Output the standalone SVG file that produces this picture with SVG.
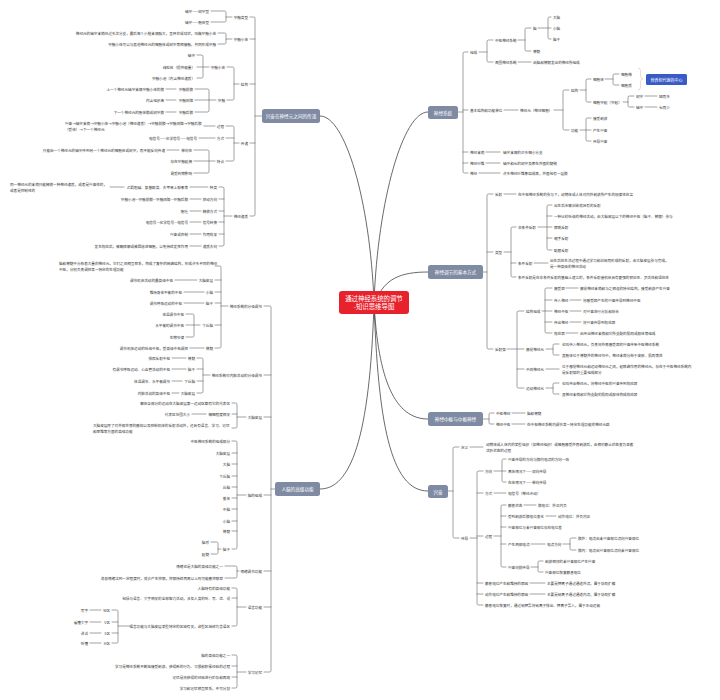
<svg xmlns="http://www.w3.org/2000/svg" width="720" height="700" viewBox="0 0 720 700">
<style>
.t{font-family:"Noto Sans CJK SC","Noto Sans",sans-serif;font-size:3.6px;fill:#333;dominant-baseline:central}
.e{text-anchor:end}
.l{fill:none;stroke:#555;stroke-width:0.55;stroke-linecap:round}
.c{fill:none;stroke:#444;stroke-width:0.8}
.b{fill:#7f8ba3}
.bt{font-family:"Noto Sans CJK SC",sans-serif;font-size:4.6px;fill:#fff;text-anchor:middle;dominant-baseline:central}
</style>
<rect width="720" height="700" fill="#fff"/>
<g id="connectors">
<path class="c" d="M320,116 C345,116 370,200 374,302"/>
<path class="c" d="M428,112 C403,112 378,200 374,302"/>
<path class="c" d="M376,300 C385,279 400,272 428,272"/>
<path class="c" d="M374,302 C378,380 395,419 428,419"/>
<path class="c" d="M374,302 C378,420 390,491 428,491"/>
<path class="c" d="M374,302 C370,440 350,489 320,489"/>
<path class="l" d="M250,17 H253.5 Q255,17 255,18.5 V214.5 Q255,216 253.5,216 H250 M250,39 H255 M250,84 H255 M250,143 H255 M255,116 H262"/>
<path class="l" d="M211,11 H224.5 Q226,11 226,12.5 V20.5 Q226,22 224.5,22 H211 M226,17 H232"/>
<path class="l" d="M218,33 H224.5 Q226,33 226,34.5 V42.5 Q226,44 224.5,44 H218 M226,39 H232"/>
<path class="l" d="M227,67 H232.5 Q234,67 234,68.5 V98.5 Q234,100 232.5,100 H227 M234,84 H239"/>
<path class="l" d="M197,55 H201.5 Q203,55 203,56.5 V76.5 Q203,78 201.5,78 H197 M197,67 H209"/>
<path class="l" d="M195,89 H207.5 Q209,89 209,90.5 V110.5 Q209,112 207.5,112 H195 M195,100 H216 M166,89 H176 M166,100 H176 M166,112 H176"/>
<path class="l" d="M226,126 H232.5 Q234,126 234,127.5 V159.5 Q234,161 232.5,161 H226 M226,138 H234 M234,143 H239 M204,126 H215 M199,138 H215"/>
<path class="l" d="M194,150 H207.5 Q209,150 209,151.5 V171.5 Q209,173 207.5,173 H194 M194,161 H215 M167,150 H179"/>
<path class="l" d="M219,187 H222.5 Q224,187 224,188.5 V244.5 Q224,246 222.5,246 H219 M219,199 H224 M219,211 H224 M219,222 H224 M219,234 H224 M224,216 H232 M190,187 H208 M190,199 H201 M190,211 H201 M190,222 H201 M190,234 H201 M190,246 H201 M110,187 H124"/>
<path class="l" d="M264,306 H269.5 Q271,306 271,307.5 V670.5 Q271,672 269.5,672 H264 M264,375 H271 M264,417 H271 M264,495 H271 M264,571 H271 M264,607 H271 M271,489 H275"/>
<path class="l" d="M215,266 H219.5 Q221,266 221,267.5 V346.5 Q221,348 219.5,348 H215 M215,280 H221 M215,292 H221 M215,303 H221 M215,325 H221 M221,306 H228 M175,280 H197 M184,292 H204 M184,303 H204 M190,348 H204"/>
<path class="l" d="M186,314 H192.5 Q194,314 194,315.5 V335.5 Q194,337 192.5,337 H186 M186,325 H200"/>
<path class="l" d="M197,358 H201.5 Q203,358 203,359.5 V391.5 Q203,393 201.5,393 H197 M197,369 H203 M197,381 H203 M203,375 H210 M172,358 H186 M172,369 H186 M172,381 H182 M172,393 H179"/>
<path class="l" d="M232,403 H235.5 Q237,403 237,404.5 V426.5 Q237,428 235.5,428 H232 M232,414 H237 M237,417 H246 M192,414 H206"/>
<path class="l" d="M232,441 H235.5 Q237,441 237,442.5 V547.5 Q237,549 235.5,549 H232 M232,453 H237 M232,464 H237 M232,476 H237 M232,487 H237 M232,498 H237 M232,509 H237 M232,521 H237 M232,531 H237 M237,495 H246"/>
<path class="l" d="M211,542 H216.5 Q218,542 218,543.5 V552.5 Q218,554 216.5,554 H211 M218,549 H221"/>
<path class="l" d="M225,566 H235.5 Q237,566 237,567.5 V576.5 Q237,578 235.5,578 H225 M237,571 H239"/>
<path class="l" d="M232,588 H235.5 Q237,588 237,589.5 V624.5 Q237,626 235.5,626 H232 M232,598 H237 M237,607 H246"/>
<path class="l" d="M112,610 H116.5 Q118,610 118,611.5 V641.5 Q118,643 116.5,643 H112 M112,622 H118 M112,633 H118 M118,626 H131 M90,610 H101 M90,622 H101 M90,633 H101 M90,643 H101"/>
<path class="l" d="M232,655 H235.5 Q237,655 237,656.5 V686.5 Q237,688 235.5,688 H232 M232,666 H237 M232,677 H237 M237,672 H246"/>
<path class="l" d="M468,52 H464.5 Q463,52 463,53.5 V171.5 Q463,173 464.5,173 H468 M463,110 H468 M463,152 H468 M463,163 H468 M458,112 H463"/>
<path class="l" d="M479,52 H487 M493,40 H488.5 Q487,40 487,41.5 V60.5 Q487,62 488.5,62 H493"/>
<path class="l" d="M518,40 H525 M531,28 H526.5 Q525,28 525,29.5 V49.5 Q525,51 526.5,51 H531 M518,62 H531"/>
<path class="l" d="M538,28 H551 M551,17 H549.5 Q548,17 548,18.5 V37.5 Q548,39 549.5,39 H551"/>
<path class="l" d="M504,110 H518 M554,110 H563 M569,90 H564.5 Q563,90 563,91.5 V128.5 Q563,130 564.5,130 H569"/>
<path class="l" d="M580,90 H586 M591,79 H587.5 Q586,79 586,80.5 V100.5 Q586,102 587.5,102 H591"/>
<path class="l" d="M605,79 H613 M619,74 H614.5 Q613,74 613,75.5 V83.5 Q613,85 614.5,85 H619"/>
<path class="l" d="M623,102 H628 M634,96 H629.5 Q628,96 628,97.5 V105.5 Q628,107 629.5,107 H634 M645,96 H657 M645,107 H657"/>
<path class="l" d="M580,130 H591 M591,118 H587.5 Q586,118 586,119.5 V139.5 Q586,141 587.5,141 H591"/>
<path class="l" d="M486,152 H500 M486,163 H500 M479,173 H500"/>
<path d="M638,68 Q640.5,68 640.5,71 V76 Q640.5,79 643,79 Q640.5,79 640.5,82 V87 Q640.5,90 638,90" fill="none" stroke="#d6bf9a" stroke-width="0.5"/>
<path class="l" d="M493,194 H488.5 Q487,194 487,195.5 V347.5 Q487,349 488.5,349 H493 M487,252 H493 M483,272 H487 M504,194 H516"/>
<path class="l" d="M504,252 H511 M516,227 H512.5 Q511,227 511,228.5 V275.5 Q511,277 512.5,277 H516 M511,263 H516"/>
<path class="l" d="M538,227 H552 M552,205 H548.5 Q547,205 547,206.5 V248.5 Q547,250 548.5,250 H552 M547,216 H552 M547,238 H552 M534,263 H548"/>
<path class="l" d="M507,349 H524 M524,311 H518.5 Q517,311 517,312.5 V386.5 Q517,388 518.5,388 H524 M517,369 H524"/>
<path class="l" d="M542,311 H552 M552,288 H546.5 Q545,288 545,289.5 V331.5 Q545,333 546.5,333 H552 M545,300 H552 M545,322 H552 M566,288 H578 M570,300 H581 M570,311 H581 M570,322 H581 M566,333 H578"/>
<path class="l" d="M546,349 H553 M559,344 H554.5 Q553,344 553,345.5 V353.5 Q553,355 554.5,355 H559 M546,369 H559"/>
<path class="l" d="M546,388 H553 M559,383 H554.5 Q553,383 553,384.5 V392.5 Q553,394 554.5,394 H559"/>
<path class="l" d="M483,419 H489 M494,413 H490.5 Q489,413 489,414.5 V422.5 Q489,424 490.5,424 H494 M512,413 H525 M512,424 H525"/>
<path class="l" d="M459,447 H454.5 Q453,447 453,448.5 V536.5 Q453,538 454.5,538 H459 M448,491 H453 M470,447 H483"/>
<path class="l" d="M470,538 H477 M483,471 H478.5 Q477,471 477,472.5 V603.5 Q477,605 478.5,605 H483 M477,493 H483 M477,536 H483 M477,583 H483 M477,594 H483"/>
<path class="l" d="M494,471 H506 M506,459 H503.5 Q502,459 502,460.5 V480.5 Q502,482 503.5,482 H506 M494,493 H506"/>
<path class="l" d="M494,536 H501 M506,505 H502.5 Q501,505 501,506.5 V565.5 Q501,567 502.5,567 H506 M501,516 H506 M501,527 H506 M501,544 H506 M524,505 H536 M546,516 H556"/>
<path class="l" d="M531,544 H545 M563,544 H570 M576,538 H571.5 Q570,538 570,539.5 V548.5 Q570,550 571.5,550 H576"/>
<path class="l" d="M531,567 H538 M543,561 H539.5 Q538,561 538,562.5 V570.5 Q538,572 539.5,572 H543 M530,583 H545 M530,594 H545"/>
</g>
<g id="center">
<rect x="339" y="291" width="70" height="23" rx="3" fill="#e8222c"/>
<text x="374" y="298.6" class="bt" style="font-size:6.4px">通过神经系统的调节</text>
<text x="374" y="306.8" class="bt" style="font-size:6.4px">-知识思维导图</text>
</g>
<g id="box-chuandi"><rect x="262" y="109" width="58" height="14" rx="2.5" class="b"/><text x="291" y="116" class="bt">兴奋在神经元之间的传递</text></g>
<g id="box-gaoji"><rect x="275" y="482" width="45" height="14" rx="2.5" class="b"/><text x="297.5" y="489" class="bt">人脑的高级功能</text></g>
<g id="box-xitong"><rect x="428" y="106" width="30" height="13" rx="2.5" class="b"/><text x="443" y="112.5" class="bt">神经系统</text></g>
<g id="box-fangshi"><rect x="428" y="265" width="55" height="14" rx="2.5" class="b"/><text x="455.5" y="272" class="bt">神经调节的基本方式</text></g>
<g id="box-zhongshu"><rect x="428" y="412" width="55" height="14" rx="2.5" class="b"/><text x="455.5" y="419" class="bt">神经中枢与中枢神经</text></g>
<g id="box-xingfen"><rect x="428" y="485" width="20" height="13" rx="2.5" class="b"/><text x="438" y="491.5" class="bt">兴奋</text></g>
<g id="box-zhongxin"><rect x="646" y="74" width="41" height="11" rx="1.5" fill="#3a5bc7"/><text x="666.5" y="79.5" class="bt" style="font-size:4px">营养和代谢的中心</text></g>
<g id="branch-chuandi" class="t">
<text class="t e" x="248" y="17">突触类型</text>
<text class="t e" x="248" y="39">突触小体</text>
<text class="t e" x="248" y="84">结构</text>
<text class="t e" x="248" y="143">传递</text>
<text class="t e" x="248" y="216">神经递质</text>
<text class="t e" x="209" y="11">轴突——树突型</text>
<text class="t e" x="209" y="22">轴突——胞体型</text>
<text class="t e" x="216" y="33">神经元的轴突末梢经过多次分支，最后每个小枝末端膨大，呈杯状或球状，叫做突触小体</text>
<text class="t e" x="216" y="44">突触小体可以与其他神经元的细胞体或树突等相接触，共同形成突触</text>
<text class="t e" x="225" y="67">突触小体</text>
<text class="t e" x="225" y="100">突触</text>
<text class="t e" x="195" y="55">轴突</text>
<text class="t e" x="195" y="67">线粒体（提供能量）</text>
<text class="t e" x="195" y="78">突触小泡（内含神经递质）</text>
<text class="t e" x="193" y="89">突触前膜</text>
<text class="t e" x="193" y="100">突触间隙</text>
<text class="t e" x="193" y="112">突触后膜</text>
<text class="t e" x="164" y="89">上一个神经元轴突末端突触小体的膜</text>
<text class="t e" x="164" y="100">内含组织液</text>
<text class="t e" x="164" y="112">下一个神经元的胞体膜或树突膜</text>
<text class="t e" x="224" y="126">过程</text>
<text class="t e" x="224" y="138">方式</text>
<text class="t e" x="224" y="161">特点</text>
<text class="t" x="65" y="123.5">兴奋→轴突末梢→突触小体→突触小泡（神经递质）→突触前膜→突触间隙→突触后膜</text>
<text class="t" x="65" y="129">（受体）→下一个神经元</text>
<text class="t e" x="197" y="138">电信号——化学信号——电信号</text>
<text class="t e" x="192" y="150">单向性</text>
<text class="t e" x="192" y="161">存在突触延搁</text>
<text class="t e" x="192" y="173">易受药物影响</text>
<text class="t e" x="165" y="150">只能由一个神经元的轴突传到另一个神经元的细胞体或树突，而不能反向传递</text>
<text class="t e" x="217" y="187">种类</text>
<text class="t e" x="217" y="199">移动方向</text>
<text class="t e" x="217" y="211">释放方式</text>
<text class="t e" x="217" y="222">信号转换</text>
<text class="t e" x="217" y="234">作用效果</text>
<text class="t e" x="217" y="246">递质去向</text>
<text class="t e" x="188" y="187">乙酰胆碱、氨基酸类、去甲肾上腺素等</text>
<text class="t e" x="188" y="199">突触小泡—突触前膜—突触间隙—突触后膜</text>
<text class="t e" x="188" y="211">胞吐</text>
<text class="t e" x="188" y="222">电信号—化学信号—电信号</text>
<text class="t e" x="188" y="234">兴奋或抑制</text>
<text class="t e" x="188" y="246">发生效应后，被酶降解或被回收进细胞，以免持续发挥作用</text>
<text class="t" x="10" y="184">同一神经元的末梢只能释放一种神经递质，或者是兴奋性的，</text>
<text class="t" x="10" y="190">或者是抑制性的</text>
</g>
<g id="branch-gaoji">
<text class="t e" x="262" y="306">神经系统的分级调节</text>
<text class="t e" x="262" y="375">神经系统对内脏活动的分级调节</text>
<text class="t e" x="262" y="417">大脑皮层</text>
<text class="t e" x="262" y="495">脑的组成</text>
<text class="t e" x="262" y="571">情绪调节功能</text>
<text class="t e" x="262" y="607">语言功能</text>
<text class="t e" x="262" y="672">学习记忆</text>
<text class="t" x="59" y="263">脑和脊髓中分布着大量的神经元，它们之间相互联系，构成了复杂的网络结构，形成许多不同的神经</text>
<text class="t" x="59" y="269">中枢，分别负责调控某一特定的生理功能</text>
<text class="t e" x="173" y="280">调节机体活动的最高级中枢</text>
<text class="t e" x="213" y="280">大脑皮层</text>
<text class="t e" x="213" y="292">小脑</text>
<text class="t e" x="213" y="303">脑干</text>
<text class="t e" x="213" y="325">下丘脑</text>
<text class="t e" x="213" y="348">脊髓</text>
<text class="t e" x="182" y="292">维持身体平衡的中枢</text>
<text class="t e" x="182" y="303">调节呼吸运动的中枢</text>
<text class="t e" x="184" y="314">体温调节中枢</text>
<text class="t e" x="184" y="325">水平衡的调节中枢</text>
<text class="t e" x="184" y="337">生物节律</text>
<text class="t e" x="188" y="348">调节机体运动的低级中枢，受高级中枢调控</text>
<text class="t e" x="170" y="358">排尿反射中枢</text>
<text class="t e" x="170" y="369">有调节呼吸运动、心血管活动的中枢</text>
<text class="t e" x="170" y="381">体温调节、水平衡调节</text>
<text class="t e" x="170" y="393">内脏活动的高级中枢</text>
<text class="t e" x="195" y="358">脊髓</text>
<text class="t e" x="195" y="369">脑干</text>
<text class="t e" x="195" y="381">下丘脑</text>
<text class="t e" x="195" y="393">大脑皮层</text>
<text class="t e" x="230" y="403">躯体各部分的运动在大脑皮层第一运动区都有它的代表区</text>
<text class="t e" x="190" y="414">代表区范围大小</text>
<text class="t e" x="230" y="414">精细程度相关</text>
<text class="t" x="93" y="425">大脑皮层除了对外部世界的感知以及控制机体的反射活动外，还具有语言、学习、记忆</text>
<text class="t" x="93" y="431">和思维等方面的高级功能</text>
<text class="t e" x="230" y="441">中枢神经系统的组成部分</text>
<text class="t e" x="230" y="453">大脑皮层</text>
<text class="t e" x="230" y="464">大脑</text>
<text class="t e" x="230" y="476">下丘脑</text>
<text class="t e" x="230" y="487">丘脑</text>
<text class="t e" x="230" y="498">垂体</text>
<text class="t e" x="230" y="509">中脑</text>
<text class="t e" x="230" y="521">小脑</text>
<text class="t e" x="230" y="531">脊髓</text>
<text class="t e" x="230" y="549">脑干</text>
<text class="t e" x="209" y="542">脑桥</text>
<text class="t e" x="209" y="554">延髓</text>
<text class="t e" x="223" y="566">情绪也是大脑的高级功能之一</text>
<text class="t e" x="223" y="578">消极情绪达到一定程度时，就会产生抑郁，抑郁持续两周以上则可能患抑郁症</text>
<text class="t e" x="230" y="588">人脑特有的高级功能</text>
<text class="t e" x="230" y="598">包括与语言、文字相关的全部智力活动，涉及人类的听、写、读、说</text>
<text class="t e" x="230" y="626">语言功能与大脑皮层某些特定的区域有关，这些区域称为言语区</text>
<text class="t e" x="110" y="610">W区</text>
<text class="t e" x="110" y="622">V区</text>
<text class="t e" x="110" y="633">S区</text>
<text class="t e" x="110" y="643">H区</text>
<text class="t e" x="88" y="610">写字</text>
<text class="t e" x="88" y="622">看懂文字</text>
<text class="t e" x="88" y="633">讲话</text>
<text class="t e" x="88" y="643">听懂</text>
<text class="t e" x="230" y="655">脑的高级功能之一</text>
<text class="t e" x="230" y="666">学习是神经系统不断地接受刺激，获得新的行为、习惯和积累经验的过程</text>
<text class="t e" x="230" y="677">记忆是将获得的经验进行贮存和再现</text>
<text class="t e" x="230" y="688">学习和记忆相互联系，不可分割</text>
</g>
<g id="branch-xitong">
<text class="t" x="470" y="52">组成</text>
<text class="t" x="470" y="110">基本结构和功能单位</text>
<text class="t" x="470" y="152">神经末梢</text>
<text class="t" x="470" y="163">神经纤维</text>
<text class="t" x="470" y="173">神经</text>
<text class="t" x="495" y="40">中枢神经系统</text>
<text class="t" x="495" y="62">周围神经系统</text>
<text class="t" x="533" y="28">脑</text>
<text class="t" x="533" y="51">脊髓</text>
<text class="t" x="533" y="62">由脑和脊髓发出的神经所组成</text>
<text class="t" x="553" y="17">大脑</text>
<text class="t" x="553" y="28">小脑</text>
<text class="t" x="553" y="39">脑干</text>
<text class="t" x="520" y="110">神经元（神经细胞）</text>
<text class="t" x="571" y="90">结构</text>
<text class="t" x="571" y="130">功能</text>
<text class="t" x="593" y="79">细胞体</text>
<text class="t" x="593" y="102">细胞突起（突起）</text>
<text class="t" x="593" y="118">接受刺激</text>
<text class="t" x="593" y="130">产生兴奋</text>
<text class="t" x="593" y="141">传导兴奋</text>
<text class="t" x="621" y="74">细胞核</text>
<text class="t" x="621" y="85">细胞质</text>
<text class="t" x="636" y="96">树突</text>
<text class="t" x="636" y="107">轴突</text>
<text class="t" x="659" y="96">短而多</text>
<text class="t" x="659" y="107">长而少</text>
<text class="t" x="503" y="152">轴突末端的众多细小分支</text>
<text class="t" x="503" y="163">轴突和长的树突及套在外面的髓鞘</text>
<text class="t" x="503" y="173">许多神经纤维集结成束，外面包有一层膜</text>
</g>
<g id="branch-fangshi">
<text class="t" x="495" y="194">反射</text>
<text class="t" x="495" y="252">类型</text>
<text class="t" x="495" y="349">反射弧</text>
<text class="t" x="518" y="194">在中枢神经系统的参与下，动物体或人体对内外刺激所产生的规律性应答</text>
<text class="t" x="518" y="227">非条件反射</text>
<text class="t" x="518" y="263">条件反射</text>
<text class="t" x="518" y="277">条件反射是在非条件反射的基础上建立的，条件反射使机体具有更强的预见性、灵活性和适应性</text>
<text class="t" x="554" y="205">出生后无需训练就具有的反射</text>
<text class="t" x="554" y="216">一种比较低级的神经活动，由大脑皮层以下的神经中枢（脑干、脊髓）参与</text>
<text class="t" x="554" y="227">膝跳反射</text>
<text class="t" x="554" y="238">缩手反射</text>
<text class="t" x="554" y="250">眨眼反射</text>
<text class="t" x="550" y="260">出生后在生活过程中通过学习和训练而形成的反射，由大脑皮层参与完成，</text>
<text class="t" x="550" y="266">是一种高级的神经活动</text>
<text class="t" x="526" y="311">结构组成</text>
<text class="t" x="526" y="349">感觉神经元</text>
<text class="t" x="526" y="369">中间神经元</text>
<text class="t" x="526" y="388">运动神经元</text>
<text class="t" x="554" y="288">感受器</text>
<text class="t" x="554" y="300">传入神经</text>
<text class="t" x="554" y="311">神经中枢</text>
<text class="t" x="554" y="322">传出神经</text>
<text class="t" x="554" y="333">效应器</text>
<text class="t" x="580" y="288">感觉神经末梢和与之相连的特化结构，接受刺激产生兴奋</text>
<text class="t" x="583" y="300">将感受器产生的兴奋传导到神经中枢</text>
<text class="t" x="583" y="311">对兴奋进行分析和综合</text>
<text class="t" x="583" y="322">将兴奋传导到效应器</text>
<text class="t" x="580" y="333">由传出神经末梢和它所支配的肌肉或腺体等组成</text>
<text class="t" x="562" y="344">也叫传入神经元，负责将外周感受器的兴奋传至中枢神经系统</text>
<text class="t" x="562" y="355">其胞体位于脊髓外的神经节中，神经末梢分布于皮肤、肌肉等处</text>
<text class="t" x="562" y="366">位于感觉神经元和运动神经元之间，起联络作用的神经元，存在于中枢神经系统内</text>
<text class="t" x="562" y="372">是反射弧的重要组成部分</text>
<text class="t" x="562" y="383">也叫传出神经元，将神经中枢的兴奋传到效应器</text>
<text class="t" x="562" y="394">其神经末梢和它所支配的肌肉或腺体构成效应器</text>
</g>
<g id="branch-zhongshu">
<text class="t" x="496" y="413">中枢神经</text>
<text class="t" x="496" y="424">神经中枢</text>
<text class="t" x="527" y="413">脑和脊髓</text>
<text class="t" x="527" y="424">在中枢神经系统内调节某一特定生理功能的神经元群</text>
</g>
<g id="branch-xingfen">
<text class="t" x="461" y="447">定义</text>
<text class="t" x="461" y="538">传导</text>
<text class="t" x="486" y="444">动物体或人体内的某些组织（如神经组织）或细胞感受外界刺激后，由相对静止状态变为显著</text>
<text class="t" x="486" y="450">活跃状态的过程</text>
<text class="t" x="485" y="471">方向</text>
<text class="t" x="485" y="493">方式</text>
<text class="t" x="485" y="536">过程</text>
<text class="t" x="485" y="583">静息电位产生和维持的原因</text>
<text class="t" x="485" y="594">动作电位产生和维持的原因</text>
<text class="t" x="485" y="605">静息电位恢复时，通过钠钾泵将钠离子排出、钾离子泵入，属于主动运输</text>
<text class="t" x="508" y="459">兴奋传导的方向与膜内电流的方向一致</text>
<text class="t" x="508" y="471">离体情况下——双向传导</text>
<text class="t" x="508" y="482">在体情况下——单向传导</text>
<text class="t" x="508" y="493">电信号（神经冲动）</text>
<text class="t" x="508" y="505">静息状态</text>
<text class="t" x="508" y="516">受到刺激后膜电位变化</text>
<text class="t" x="508" y="527">兴奋部位与未兴奋部位存在电位差</text>
<text class="t" x="508" y="544">产生局部电流</text>
<text class="t" x="508" y="567">兴奋向前传导</text>
<text class="t" x="538" y="505">膜电位：外正内负</text>
<text class="t" x="558" y="516">动作电位：外负内正</text>
<text class="t" x="547" y="544">电流方向</text>
<text class="t" x="578" y="538">膜外：电流由未兴奋部位流向兴奋部位</text>
<text class="t" x="578" y="550">膜内：电流由兴奋部位流向未兴奋部位</text>
<text class="t" x="545" y="561">刺激相邻的未兴奋部位产生兴奋</text>
<text class="t" x="545" y="572">兴奋部位恢复静息电位</text>
<text class="t" x="547" y="583">主要是钾离子通过通道外流，属于协助扩散</text>
<text class="t" x="547" y="594">主要是钠离子通过通道内流，属于协助扩散</text>
</g>
</svg>
